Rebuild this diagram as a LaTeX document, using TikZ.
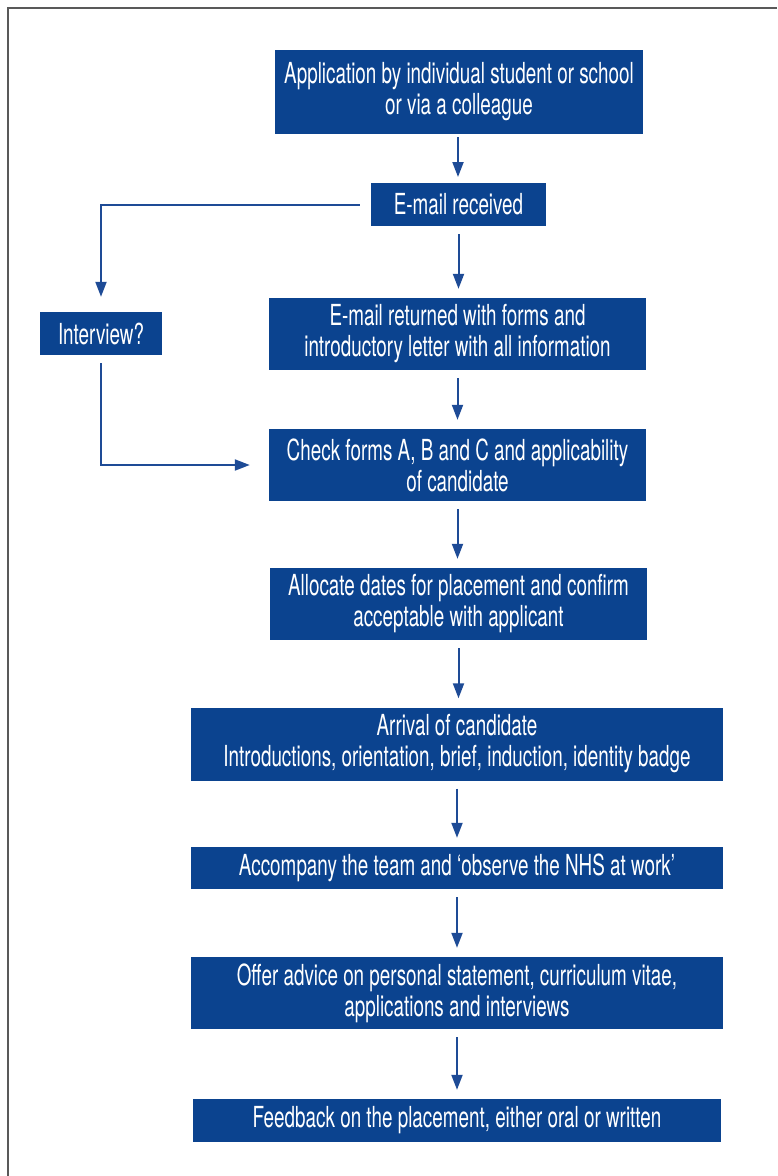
\documentclass[tikz,border=0pt]{standalone}
\usepackage{fontspec}
\setmainfont{TeX Gyre Heros}[FakeStretch=0.65]
\usepackage{xcolor}
\usetikzlibrary{arrows.meta}

\definecolor{nhsblue}{RGB}{11,67,143}
\definecolor{flowblue}{RGB}{30,75,150}

\begin{document}
\begin{tikzpicture}[x=1pt,y=-1pt,
        blockbox/.style = {fill=nhsblue, text=white, align=center, inner sep=0pt,
                           font=\fontsize{29}{31}\selectfont},
        flow/.style = {draw=flowblue, line width=2pt, -{Triangle[width=11pt,length=15pt]},
                       shorten <=8pt, shorten >=9pt}
        ]
    \useasboundingbox (0,0) rectangle (777,1176);
    \draw[gray!70!black, line width=2pt] (8,1176) -- (8,8) -- (777,8); %frame

    \node[blockbox, minimum width=368, minimum height=84] (appl)  at (459,92)
        {Application by individual student or school\\or via a colleague};
    \node[blockbox, minimum width=175, minimum height=43] (recv)  at (458.5,204.5) {E-mail received};
    \node[blockbox, minimum width=377, minimum height=72] (reply) at (457.5,334)
        {E-mail returned with forms and\\introductory letter with all information};
    \node[blockbox, minimum width=122, minimum height=43] (intv)  at (101,333.5) {Interview?};
    \node[blockbox, minimum width=377, minimum height=72] (check) at (457.5,465)
        {Check forms A, B and C and applicability\\of candidate};
    \node[blockbox, minimum width=377, minimum height=72] (dates) at (458.5,604)
        {Allocate dates for placement and confirm\\acceptable with applicant};
    \node[blockbox, minimum width=532, minimum height=73] (arriv) at (457,744)
        {Arrival of candidate\\Introductions, orientation, brief, induction, identity badge};
    \node[blockbox, minimum width=532, minimum height=42] (team)  at (457,868)
        {Accompany the team and `observe the NHS at work'};
    \node[blockbox, minimum width=532, minimum height=72] (advic) at (457,993)
        {Offer advice on personal statement, curriculum vitae,\\applications and interviews};
    \node[blockbox, minimum width=528, minimum height=43] (feed)  at (457,1120.5)
        {Feedback on the placement, either oral or written};

    % main line
    \draw[flow, shorten <=3pt, shorten >=6pt] (458,134) -- (458,183);
    \draw[flow] (recv.south) -- (recv.south |- reply.north);
    \draw[flow] (reply.south) -- (reply.south |- check.north);
    \draw[flow] (check.south) -- (check.south |- dates.north);
    \draw[flow] (dates.south) -- (dates.south |- arriv.north);
    \draw[flow] (arriv.south) -- (arriv.south |- team.north);
    \draw[flow] (team.south) -- (team.south |- advic.north);
    \draw[flow] (advic.south) -- (advic.south |- feed.north);

    % side branch
    \draw[flow, shorten <=11pt, shorten >=15pt] (recv) -| (intv);
    \draw[flow, shorten >=19pt] (intv) |- (check);
\end{tikzpicture}
\end{document}
